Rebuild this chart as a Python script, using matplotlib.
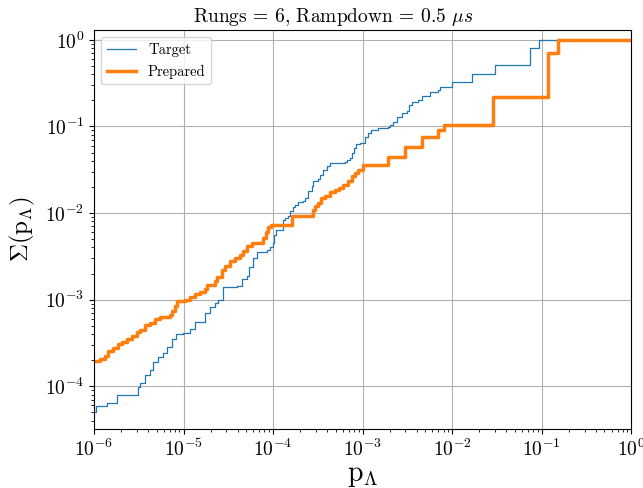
import numpy as np
import matplotlib
matplotlib.use("Agg")
import matplotlib.pyplot as plt

plt.rcParams.update({
    "font.family": "serif",
    "font.serif": ["cmr10"],
    "mathtext.fontset": "cm",
    "axes.formatter.use_mathtext": True,
    "axes.unicode_minus": True,
})

# Cumulative probability curves: x = outcome probability, y = cumulative sum
target_p = [1.00e-6, 1.05e-6, 1.40e-6, 1.81e-6, 3.10e-6, 3.26e-6, 3.71e-6, 4.22e-6,
            4.55e-6, 5.18e-6, 5.89e-6, 6.53e-6, 7.43e-6, 8.22e-6, 9.84e-6, 1.18e-5,
            1.34e-5, 1.73e-5, 1.97e-5, 2.24e-5, 2.42e-5, 2.75e-5, 3.94e-5, 4.49e-5,
            5.10e-5, 5.37e-5, 5.96e-5, 6.59e-5, 8.53e-5, 9.20e-5, 9.95e-5, 1.02e-4,
            1.07e-4, 1.29e-4, 1.36e-4, 1.46e-4, 1.54e-4, 1.66e-4, 1.75e-4, 1.89e-4,
            2.15e-4, 2.26e-4, 2.44e-4, 2.71e-4, 2.78e-4, 3.16e-4, 3.33e-4, 3.60e-4,
            3.98e-4, 4.31e-4, 6.32e-4, 6.67e-4, 7.19e-4, 7.57e-4, 7.98e-4, 8.39e-4,
            9.31e-4, 1.06e-3, 1.14e-3, 1.24e-3, 1.48e-3, 1.91e-3, 2.01e-3, 2.17e-3,
            2.41e-3, 2.74e-3, 3.11e-3, 3.28e-3, 3.54e-3, 4.13e-3, 4.58e-3, 5.62e-3,
            6.90e-3, 7.28e-3, 9.91e-3, 1.66e-2, 2.98e-2, 7.45e-2, 9.37e-2, 1.0]
target_cum = [5.00e-5, 5.85e-5, 6.33e-5, 7.83e-5, 9.69e-5, 1.08e-4, 1.33e-4, 1.52e-4,
              1.88e-4, 2.15e-4, 2.39e-4, 2.80e-4, 3.47e-4, 3.96e-4, 4.06e-4, 4.52e-4,
              5.44e-4, 6.92e-4, 8.11e-4, 9.02e-4, 1.00e-3, 1.38e-3, 1.42e-3, 1.75e-3,
              1.85e-3, 2.41e-3, 3.06e-3, 3.59e-3, 3.78e-3, 4.10e-3, 4.56e-3, 5.64e-3,
              6.44e-3, 8.39e-3, 8.85e-3, 9.17e-3, 1.05e-2, 1.18e-2, 1.25e-2, 1.33e-2,
              1.36e-2, 1.49e-2, 1.78e-2, 2.03e-2, 2.32e-2, 2.47e-2, 2.77e-2, 3.17e-2,
              3.46e-2, 3.78e-2, 3.85e-2, 4.13e-2, 4.32e-2, 4.93e-2, 5.63e-2, 6.31e-2,
              6.44e-2, 7.60e-2, 8.39e-2, 9.16e-2, 9.59e-2, 9.73e-2, 0.105, 0.114,
              0.128, 0.143, 0.149, 0.178, 0.194, 0.203, 0.222, 0.253,
              0.265, 0.289, 0.330, 0.405, 0.515, 0.809, 1.0, 1.0]

prepared_p = [1.00e-6, 1.17e-6, 1.33e-6, 1.43e-6, 1.63e-6, 1.85e-6, 2.05e-6, 2.33e-6,
              2.65e-6, 3.02e-6, 3.26e-6, 3.71e-6, 4.22e-6, 4.80e-6, 5.46e-6, 7.05e-6,
              7.43e-6, 8.02e-6, 8.43e-6, 1.04e-5, 1.18e-5, 1.34e-5, 1.52e-5, 1.73e-5,
              1.82e-5, 2.24e-5, 2.36e-5, 2.69e-5, 2.90e-5, 3.30e-5, 3.75e-5, 4.26e-5,
              4.60e-5, 5.10e-5, 5.79e-5, 7.69e-5, 8.31e-5, 8.75e-5, 9.44e-5, 1.61e-4,
              2.82e-4, 2.96e-4, 3.18e-4, 3.39e-4, 3.78e-4, 4.31e-4, 4.90e-4, 5.47e-4,
              6.05e-4, 6.89e-4, 7.52e-4, 8.30e-4, 8.95e-4, 1.01e-3, 1.93e-3, 2.96e-3,
              4.63e-3, 6.90e-3, 8.05e-3, 2.84e-2, 0.117, 0.153, 1.0]
prepared_cum = [1.95e-4, 2.04e-4, 2.22e-4, 2.54e-4, 2.78e-4, 3.03e-4, 3.23e-4, 3.53e-4,
                3.78e-4, 4.21e-4, 4.44e-4, 5.03e-4, 5.40e-4, 5.89e-4, 6.34e-4, 6.56e-4,
                7.35e-4, 8.39e-4, 9.59e-4, 1.00e-3, 1.08e-3, 1.15e-3, 1.22e-3, 1.33e-3,
                1.49e-3, 1.63e-3, 1.83e-3, 2.22e-3, 2.43e-3, 2.77e-3, 3.03e-3, 3.31e-3,
                3.62e-3, 4.13e-3, 4.52e-3, 5.16e-3, 6.10e-3, 6.97e-3, 7.35e-3, 9.16e-3,
                1.07e-2, 1.19e-2, 1.31e-2, 1.49e-2, 1.59e-2, 1.73e-2, 1.86e-2, 1.95e-2,
                2.13e-2, 2.32e-2, 2.65e-2, 2.90e-2, 3.17e-2, 3.62e-2, 4.44e-2, 5.79e-2,
                7.55e-2, 8.99e-2, 0.105, 0.220, 0.699, 1.0, 1.0]

fig = plt.figure(figsize=(6.43, 4.88), dpi=100)
ax = fig.add_axes([0.1462, 0.1209, 0.8358, 0.8176])

ax.step(target_p, target_cum, where="post", color="#1f77b4", lw=0.9, label="Target")
ax.step(prepared_p, prepared_cum, where="post", color="#ff7f0e", lw=2.5, label="Prepared")

ax.set_xscale("log")
ax.set_yscale("log")
ax.set_xlim(1e-6, 1.0)
ax.set_ylim(3.2e-5, 1.3)
ax.grid(True, which="major", color="#b0b0b0", lw=0.8)
ax.tick_params(labelsize=14)

ax.set_title(r"Rungs = 6, Rampdown = 0.5 $\mu s$", fontsize=14, x=0.445)
ax.set_xlabel(r"$\mathrm{p}_\Lambda$", fontsize=20, labelpad=2)
ax.set_ylabel(r"$\Sigma(\mathrm{p}_\Lambda)$", fontsize=18, labelpad=6)
ax.legend(loc="upper left", fontsize=10.5)

fig.savefig("out.png", dpi=100)
